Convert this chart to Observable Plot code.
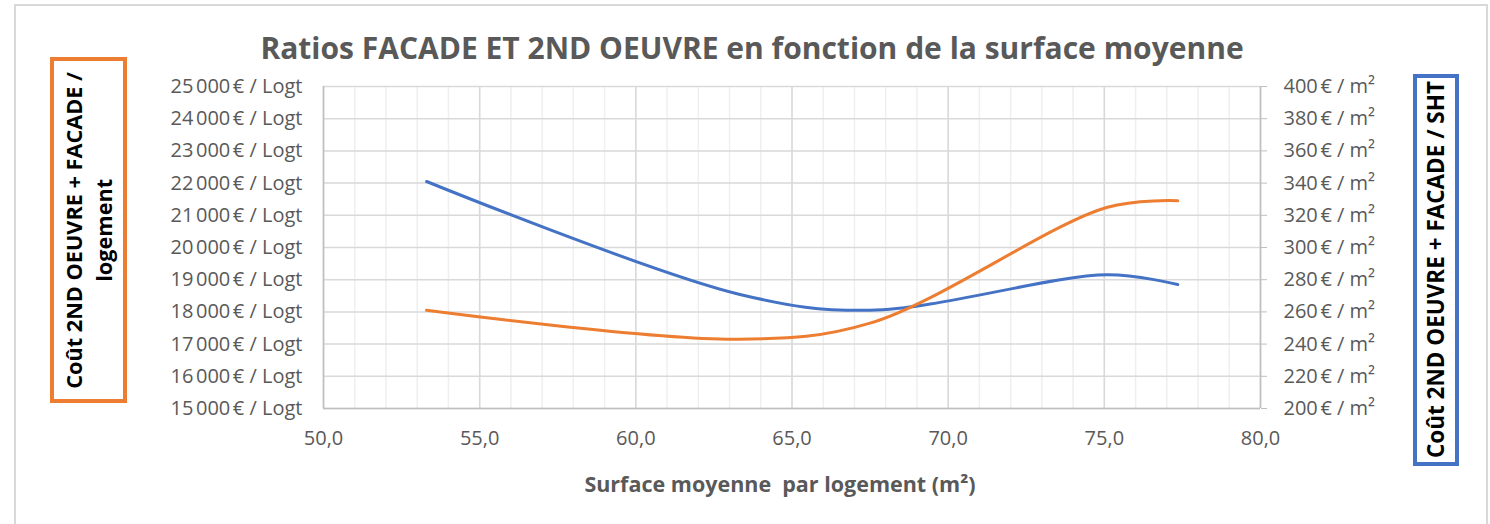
<!DOCTYPE html>
<html><head><meta charset="utf-8">
<script src="https://cdn.jsdelivr.net/npm/d3@7"></script>
<script src="https://cdn.jsdelivr.net/npm/@observablehq/plot@0.6"></script>
<style>
body{margin:0;background:#fff;font-family:"Open Sans",sans-serif;}
#wrap{position:relative;width:1490px;height:524px;overflow:hidden;background:#fff;}
#frame{position:absolute;left:14px;top:4px;width:1474px;height:540px;border:2px solid #d9d9d9;box-sizing:border-box;}
#chart{position:absolute;left:0;top:0;}
#title{position:absolute;left:752px;top:47px;transform:translate(-50%,-50%);white-space:nowrap;font-weight:bold;font-size:30px;color:#595959;}
#xtitle{position:absolute;left:780px;top:483px;transform:translate(-50%,-50%);white-space:nowrap;font-weight:bold;font-size:21.5px;color:#595959;}
.box{position:absolute;box-sizing:border-box;background:#fff;display:flex;align-items:center;justify-content:center;}
.box .t{writing-mode:vertical-rl;transform:rotate(180deg);font-weight:bold;color:#000;text-align:center;white-space:nowrap;}
#lbox{left:50px;top:57px;width:77px;height:346px;border:4px solid #ED7D31;}
#lbox .t{font-size:21.7px;line-height:30px;}
#rbox{left:1413px;top:74px;width:46px;height:392px;border:4px solid #4472C4;}
#rbox .t{font-size:22.5px;line-height:30px;}
</style>
</head><body>
<div id="wrap">
  <div id="frame"></div>
  <div id="chart"></div>
  <div id="title">Ratios FACADE ET 2ND OEUVRE en fonction de la surface moyenne</div>
  <div id="xtitle">Surface moyenne&nbsp; par logement (m²)</div>
  <div class="box" id="lbox"><div class="t">Coût 2ND OEUVRE + FACADE /<br>logement</div></div>
  <div class="box" id="rbox"><div class="t">Coût 2ND OEUVRE + FACADE / SHT</div></div>
</div>
<script>
// Data
const surface = [53.3, 63.3, 67.5, 75.1, 77.35];
const coutParLogement = [18050, 17150, 17650, 21250, 21450]; // € / Logt (left axis)
const coutParM2 = [341, 271, 261, 283, 277];                 // € / m² SHT (right axis)
const xTicks = [50, 55, 60, 65, 70, 75, 80];
const xMinorTicks = d3.range(50, 81, 1);
const yLeftTicks = d3.range(15000, 25001, 1000);
const yRightTicks = d3.range(200, 401, 20);

// right axis [200,400] is mapped onto left axis [15000,25000]
const toLeft = v => 15000 + (v - 200) * 50;
const fromLeft = y => (y - 15000) / 50 + 200;
const nb = n => d3.format(",.0f")(n).replace(/,/g, "\u202f");

const idx = d3.range(surface.length);

const chart = Plot.plot({
  width: 1490,
  height: 524,
  marginLeft: 323,
  marginRight: 230,
  marginTop: 86,
  marginBottom: 116,
  style: {fontFamily: "'Open Sans', sans-serif", fontSize: "20px", color: "#595959", background: "transparent"},
  x: {domain: [50, 80]},
  y: {domain: [15000, 25000]},
  marks: [
    Plot.gridX(xMinorTicks, {stroke: "#efefef", strokeOpacity: 1, strokeWidth: 1.5}),
    Plot.gridX(xTicks, {stroke: "#d9d9d9", strokeOpacity: 1, strokeWidth: 1.5}),
    Plot.gridY(yLeftTicks, {stroke: "#d9d9d9", strokeOpacity: 1, strokeWidth: 1.5}),
    Plot.ruleX([50, 80], {stroke: "#bfbfbf", strokeWidth: 1.5}),
    Plot.ruleY([15000], {stroke: "#bfbfbf", strokeWidth: 1.5}),
    Plot.axisY(yLeftTicks, {anchor: "left", tickSize: 0, tickPadding: 21, label: null,
      tickFormat: d => `${nb(d)}\u202f€ / Logt`, fill: "#595959"}),
    Plot.axisY(yRightTicks.map(toLeft), {anchor: "right", tickSize: 6, tickPadding: 17, label: null,
      stroke: "#bfbfbf", fill: "#595959",
      tickFormat: d => `${nb(fromLeft(d))}\u202f€ / m²`}),
    Plot.axisX(xTicks, {anchor: "bottom", tickSize: 0, tickPadding: 22, label: null,
      tickFormat: d => d.toFixed(1).replace(".", ","), fill: "#595959"}),
    Plot.line(idx, {x: i => surface[i], y: i => toLeft(coutParM2[i]), stroke: "#4472C4", strokeWidth: 3, curve: "catmull-rom"}),
    Plot.line(idx, {x: i => surface[i], y: i => coutParLogement[i], stroke: "#ED7D31", strokeWidth: 3, curve: "catmull-rom"})
  ]
});
document.getElementById("chart").appendChild(chart);
</script>
</body></html>
